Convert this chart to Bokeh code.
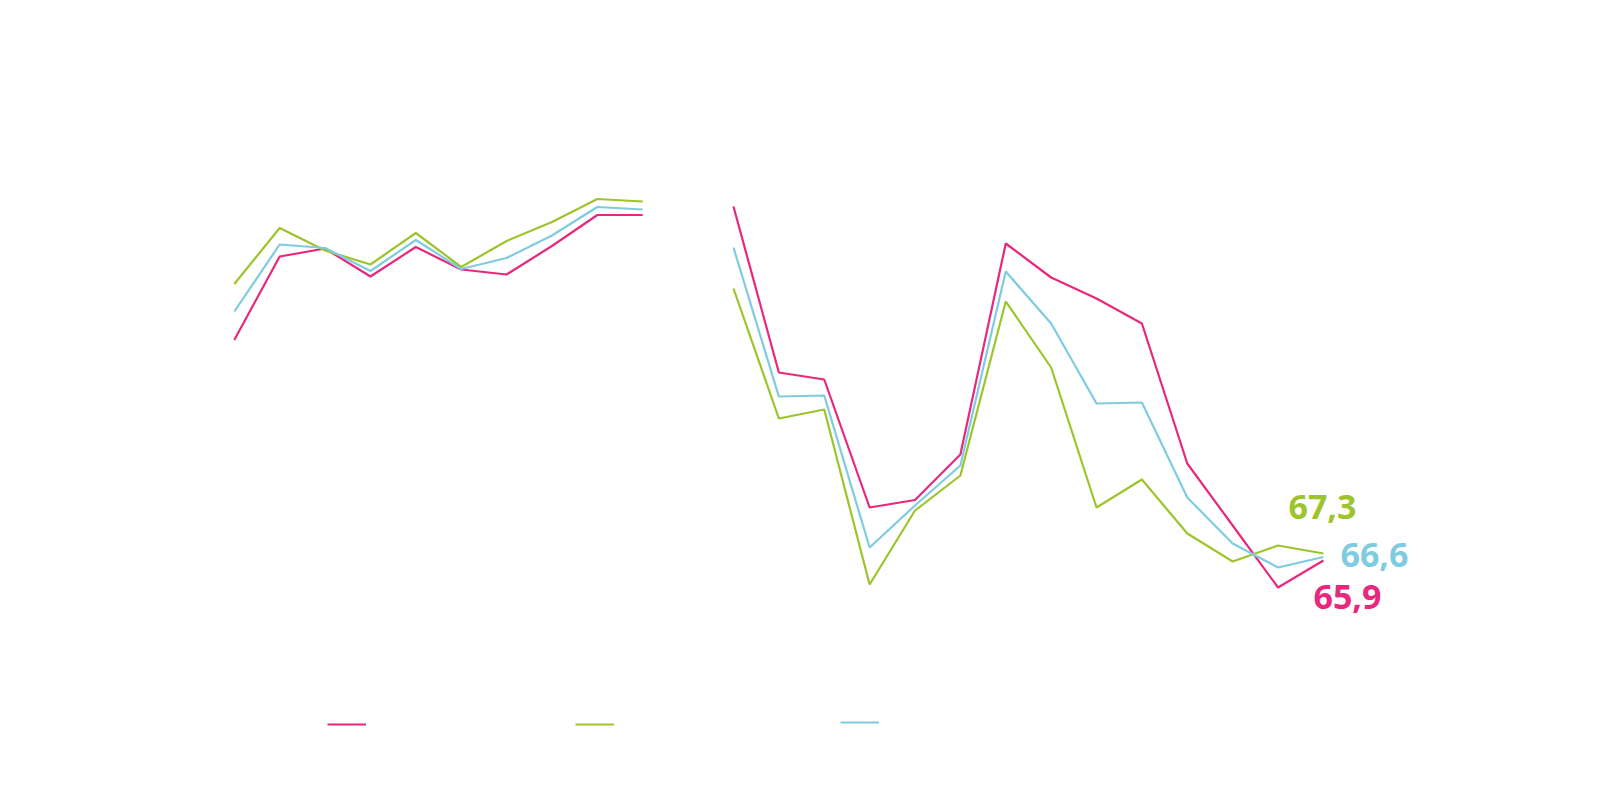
import math
from bokeh.plotting import figure
from bokeh.models import Legend, LegendItem, Range1d
from bokeh.core.properties import value
from bokeh.embed import file_html
from bokeh.resources import INLINE

nan = float("nan")

# 25 periods; period index 10 has no data (gap in the series)
periods = list(range(25))

pink_vals = [110.0, 126.7, 128.3, 122.7, 128.6, 124.1, 123.1, 128.8, 135.0, 135.0,
             nan,
             136.7, 103.5, 102.1, 76.5, 78.0, 87.1, 129.3, 122.5, 118.3, 113.3,
             85.3, 72.9, 60.5, 65.9]
green_vals = [121.2, 132.4, 127.9, 125.1, 131.4, 124.6, 129.8, 133.6, 138.2, 137.7,
              nan,
              120.3, 94.3, 96.1, 61.1, 75.9, 82.9, 117.7, 104.5, 76.5, 82.1,
              71.3, 65.7, 68.9, 67.3]
blue_vals = [115.7, 129.1, 128.4, 123.8, 130.0, 124.2, 126.4, 130.9, 136.6, 136.1,
             nan,
             128.5, 98.7, 98.9, 68.5, 76.9, 84.9, 123.7, 113.3, 97.3, 97.5,
             78.5, 69.3, 64.5, 66.6]

end_labels = ["65,9", "67,3", "66,6"]

PINK = "#E8287C"
GREEN = "#9DC42B"
BLUE = "#7FCCE0"

p = figure(width=1584, height=784, output_backend="svg", toolbar_location=None,
           x_range=Range1d(-5.152, 29.753), y_range=Range1d(21.1, 177.9),
           x_axis_location=None, y_axis_location=None, min_border=0)
p.grid.visible = False
p.outline_line_color = None
p.background_fill_color = "white"

r_pink = p.line(periods, pink_vals, line_color=PINK, line_width=2.2)
r_green = p.line(periods, green_vals, line_color=GREEN, line_width=2.2)
r_blue = p.line(periods, blue_vals, line_color=BLUE, line_width=2.2)

# end-of-line value labels
last = periods[-1]
lab_x = [last - 0.22, last - 0.77, last + 0.375]
lab_y = [pink_vals[-1] - 7.2, green_vals[-1] + 9.4, blue_vals[-1] + 0.5]
p.text(x=lab_x, y=lab_y, text=end_labels, text_color=[PINK, GREEN, BLUE],
       text_font=value("Open Sans"), text_font_style="bold", text_font_size="34px",
       text_align="left", text_baseline="alphabetic")

def add_legend(renderer, loc):
    lg = Legend(items=[LegendItem(label=" ", renderers=[renderer])], location=loc,
                orientation="horizontal", glyph_width=39, glyph_height=20,
                label_standoff=0, label_width=0, label_height=20,
                label_text_font_size="2px", padding=0, margin=0, spacing=0,
                border_line_color=None, background_fill_alpha=0)
    p.add_layout(lg, "center")

add_legend(r_pink, (327, 50))
add_legend(r_green, (575, 50))
add_legend(r_blue, (840, 52))

open("out.html", "w").write(file_html(p, INLINE))
